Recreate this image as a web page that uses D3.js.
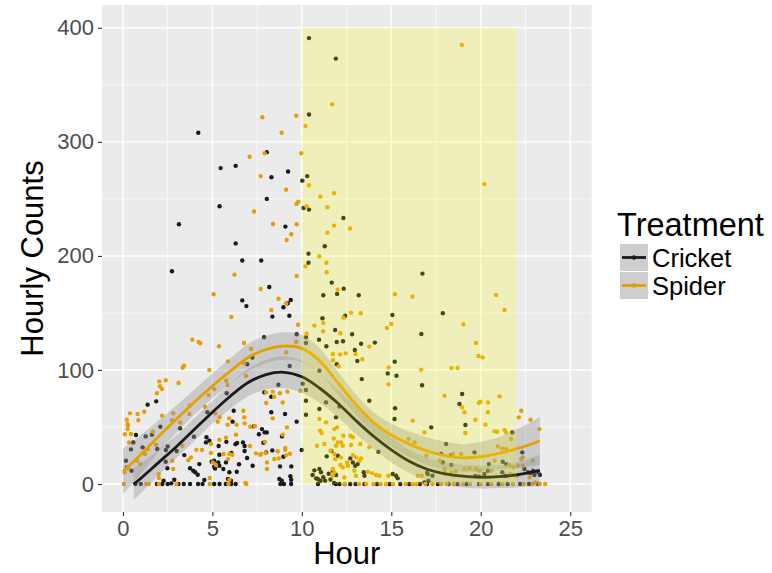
<!DOCTYPE html>
<html>
<head>
<meta charset="utf-8">
<script src="https://cdn.jsdelivr.net/npm/d3@7/dist/d3.min.js"></script>
<style>
  html, body { margin: 0; padding: 0; background: #ffffff; }
  svg { display: block; font-family: "Liberation Sans", Arial, Helvetica, sans-serif; }
</style>
</head>
<body>
<svg id="chart" width="772" height="573"></svg>
<script>
// ---- Data -------------------------------------------------------------
const xTicks = [0, 5, 10, 15, 20, 25];
const yTicks = [0, 100, 200, 300, 400];
const treatments = ["Cricket", "Spider"];
const seriesColors = ["#1a1a1a", "#E69F00"];

// shaded treatment window (hours, counts)
const windowHours = [10, 22];
const windowCounts = [0, 400];

// hourly observations: [hour, count]
const cricketPoints = [
  [4.21,308],[10.4,391],[10.4,324],[8.04,291],[6.3,279],[5.46,277],[8.3,269],[9.23,274],[10.03,266],[10.3,270],[11.9,373],[8.04,250],
  [5.4,243.6],[10.1,242],[10.4,240.6],[3.13,227.8],[9.08,225.7],[6.3,211],[6.67,196],[7.73,196],[10.37,202],[10.37,194],[2.74,186.6],
  [8.18,172.8],[6.67,161],[6.9,156],[9.38,161.4],[9.21,158.5],[8.97,155],[8.35,146.8],[9.3,147.6],[9.71,131.3],[7.89,128.7],[6.95,105],
  [7.23,111],[9.32,103.5],[10.05,88],[8.69,87],
  [12.32,233.3],[11.28,208.5],[11.67,176.6],[12.34,171.3],[11.2,165.5],[11.97,166.7],[13.18,165.5],[16.74,184.5],[17.88,149.7],
  [15.06,148.2],[12.42,147.6],[11.15,145.3],[16.68,131.6],[11.86,135],[12.81,131.3],[10.96,126.6],[11.95,124.6],[12.3,125.2],
  [11.37,120.8],[12.96,117.5],[13.31,123],[14.08,124],[13.1,107.9],[11.95,105],[15.19,107.3],[14.8,97],[15.29,95],[13.35,92],[16.72,86.6],
  [5.8,79.6],[1.38,69.6],[1.86,72.5],[2.09,50.3],[3.19,48.9],[4.72,62.9],[6.19,64.3],[7.9,80.4],[8.29,76.6],[8.29,62.9],[9.71,54.7],
  [7.77,48.2],[8.04,45.3],[4.67,41],[4.83,38],[4.64,36.5],[5.35,33.3],[5.78,37],[6.29,35],[6.38,36],[6.71,36.5],[6.8,33.3],[6.8,29],
  [7.6,43.6],[7.92,45.3],[7.85,36.2],[8.35,29.5],[8.97,24],[9.41,15.5],[9.99,29.8],[7.25,16],[0.45,30.4],[0.58,36.5],[1.1,32.2],
  [0.17,20.4],[0.22,14.3],[1.27,41.8],[1.62,43.3],[1.92,30.7],[2.4,29.8],[2.39,19.6],[2.48,13.8],[3.0,29],[2.27,2.9],[2.7,0.6],
  [2.87,3.8],[3.43,25.4],[3.75,13.8],[3.93,11.7],[4.04,10.3],[3.97,41.5],[4.27,17.5],[4.18,8.2],[4.55,3.5],[4.96,19.6],[5.1,15.2],
  [5.39,25.7],[5.33,19],[5.61,13.2],[5.87,4.4],[6.04,2.9],[6.49,17.3],[6.94,22.8],[6.36,10.8],[8.74,4.4],[8.88,2.9],[9.36,6.8],[9.4,3.8],
  [10.23,82.5],[10.23,73],[10.23,60.8],[9.06,61.4],[6.13,54.7],[7.31,50.6],[8.89,41.8],[6.06,27.2],[8.0,27.8],[5.1,20.4],[5.39,16],
  [5.15,13.7],[5.76,19],[5.95,10.3],[8.78,15.5],
  [10.23,128.7],[10.23,123.7],[10.98,99.4],[11.35,71.6],[13.77,73],[10.98,65.8],[12.1,68],[11.91,58.5],[15.18,57],[17.23,49.7],
  [14.28,28.3],[11.65,29],[11.39,24.3],[12.01,24.8],[12.71,22.5],[12.85,19],[12.98,16],[13.12,17.5],[11.73,11.7],[11.91,7.9],
  [10.98,13.2],[11.07,10.3],[10.89,4.4],[10.8,5],[11.04,2.9],[13.46,10.3],[13.5,7.3],[15.08,8.8],[15.27,7.3],[15.36,5],[17.04,8.8],
  [17.08,2.9],[16.85,1.5],[10.6,8],[10.7,12],[11.2,6],[11.3,3],[11.5,9],[11.6,4],[11.8,1],
  [18.96,79],[18.81,70.2],[19.14,51.8],[21.76,45.3],[18.06,35.1],[22.32,27.8],[19.65,27.8],[17.79,26.3],[18.35,25.4],[18.35,16.7],
  [17.88,19],[20.45,17.5],[21.23,19.6],[21.42,17.5],[20.2,8.8],[20.4,11.7],[21.2,10.3],[21.38,7.3],[22.44,13.2],[22.64,10.3],
  [22.92,11.7],[23.2,10.3],[23.3,7.9],[23.0,7.9],[19.7,7],[19.9,6.5],[17.0,10],[17.3,7.3],[15.21,66.4],[22.78,9.4],
  [0.73,43],[0.48,11.7],[2.5,33],
  [0.7,0],[1.0,0],[1.9,0],[2.2,0],[2.5,0],[3.1,0],[3.4,0],[3.75,0],[4.2,0],[4.45,0],[5.1,0],[5.4,0],[5.75,0],[6.05,0],[6.3,0],
  [8.8,0],[9.0,0],[9.4,0],[10.9,0],[11.9,0],[12.1,0],[12.4,0],[12.7,0],[13.0,0],[13.5,0],[14.2,0],[14.9,0],[15.5,0],[16.0,0],
  [16.6,0],[17.0,0],[17.6,0],[18.2,0],[18.7,0],[19.2,0],[19.9,0],[20.4,0],[21.0,0],[21.5,0],[22.2,0],[22.7,0],[23.2,0]
];

const spiderPoints = [
  [7.79,321.6],[9.69,323],[10.2,314],[8.87,308],[7.92,290],[7.08,287],[7.7,270],[9.97,290],[10.4,262],[9.12,258],[18.94,385],
  [11.7,333],[11.03,252],[11.8,255],[20.2,263],
  [9.8,247.6],[9.7,245.6],[10.27,243.6],[7.33,239],[8.39,228],[9.71,227.8],[9.41,219],[9.15,214],[10.2,191],[6.23,183.6],[9.71,182.5],
  [7.7,171],[5.07,166.4],[8.7,162.5],[9.12,158.5],[8.29,152.6],[6.06,146.5],[9.79,139.7],[10.27,131.8],[3.88,126.6],[4.23,124.5],
  [4.32,123.4],[5.37,120.8],[6.77,123.7],[3.34,102],[3.41,103.8],[4.83,100],[5.87,107.6],[6.77,106],[9.13,115.5],[2.03,90],[2.39,91],[3.11,88.6],
  [11.43,242.7],[11.8,226.6],[11.43,220.4],[12.69,224],[10.98,199.7],[11.37,194],[11.39,185.7],[12.0,170.5],[15.2,166.4],[16.18,164.3],
  [20.86,165.8],[21.33,152.6],[12.75,150.3],[13.29,149.7],[12.32,145.9],[11.2,141.2],[10.7,138.9],[15.0,140.4],[14.75,136.8],[19.03,140],
  [11.19,134],[12.15,132.2],[13.77,120.5],[19.74,123.7],[19.87,112.3],[20.1,111.1],[11.73,114],[12.14,113.7],[12.45,114.6],[13.0,114],
  [13.38,109.4],[11.74,108.5],[12.06,103.2],[14.86,102.3],[16.67,100.3],[18.36,101.8],[18.7,101.8],[14.84,87.4],
  [2.07,85.7],[2.18,83.3],[1.9,79.6],[5.1,83.3],[5.78,90.6],[5.85,86.8],[8.0,80.4],[8.37,81],[8.45,76.6],[8.78,79.6],[9.19,81],[9.92,81.8],
  [1.19,63.4],[0.82,61.4],[0.39,62],[0.22,56.4],[0.28,51.2],[0.86,56],[0.11,43.6],[0.45,43.9],[2.18,60],[2.81,62],[2.74,56],[3.2,54],
  [3.73,69],[3.71,61.4],[4.59,67.8],[4.79,78],[5.16,62],[5.3,54.7],[5.41,58.5],[5.94,57.6],[6.73,64.3],[6.78,58.5],[6.8,53.2],[6.36,52],
  [7.12,50.3],[8.01,71],[8.93,71.6],[8.37,57.6],[7.38,50.9],[8.93,43.3],[5.39,38.9],[5.76,40.6],[7.1,33.3],[7.94,37],[7.72,26.3],
  [7.98,27.2],[8.65,28.7],[8.71,22.5],[9.08,31.6],[9.34,26.6],[8.05,13.2],[8.46,22],[0.1,10.3],[0.3,13.8],[0.78,20.4],[0.97,17.5],
  [1.23,26.3],[1.38,30.7],[1.85,34.5],[1.68,45.9],[2.76,20.4],[2.81,13.2],[2.0,8.8],[2.01,5.3],[3.32,33.6],[3.8,23.4],[3.65,21],[4.1,30],
  [4.42,29.8],[4.85,5.3],[4.92,27.2],[5.87,21.9],[6.11,25.7],[5.95,3.8],
  [7.16,118.4],[6.88,95],[9.68,124.8],[5.85,52],[9.17,49.7],[6.32,43.3],[4.92,35.1],[5.63,26.3],[5.95,26.3],[7.44,26.9],[7.68,25.7],
  [9.07,30],[9.12,25.4],[5.02,19],[5.2,16.7],[8.05,19],[6.84,0.9],
  [10.98,57],[11.35,54.1],[16.2,55.6],[11.02,46.8],[11.11,44.7],[11.82,48.2],[11.97,49.7],[12.32,42.4],[12.19,36.5],[12.71,42.4],
  [12.85,41],[11.78,40],[12.01,36.5],[11.91,33.6],[12.29,33.6],[10.85,33.6],[11.26,35.1],[12.75,34.2],[13.27,35.1],[13.77,32.2],
  [11.6,29.2],[11.82,26.3],[12.19,23.4],[11.87,22],[12.85,25.4],[13.03,23.4],[13.22,20.4],[13.31,22.5],[12.53,19],[12.57,16],
  [12.15,16.7],[12.29,14.6],[11.73,13.2],[11.82,10.3],[11.73,7.3],[12.38,5.8],[12.94,11.7],[13.03,7.3],[13.69,10.8],[13.93,9.6],
  [14.15,7.9],[14.34,7.3],[14.84,7.3],[16.48,7.3],[16.7,7.3],[16.85,45.3],[15.96,39.5],[16.3,36.5],[17.97,13.2],
  [17.97,77.5],[18.96,67.3],[19.09,62.9],[19.89,71],[19.98,72.2],[20.4,71.6],[20.4,62.9],[21.05,76.9],[19.7,56.4],[20.26,52],[19.14,44.7],
  [22.26,64.3],[22.13,58.5],[22.78,56.4],[23.28,48.2],[20.77,46.2],[20.92,45.9],[21.33,47.4],[21.42,45.3],[21.7,39.5],[20.95,33],
  [21.2,31.3],[21.42,30.7],[22.35,23.4],[22.91,20.4],[18.44,26.3],[18.9,26.3],[16.95,24.8],[17.7,20.4],[20.77,20.4],[21.6,16.7],
  [21.83,14.6],[22.07,16],[19.09,13.2],[19.37,13.8],[19.74,13.2],[19.93,11.7],[20.6,11.7],[21.64,8.8],[21.83,7.9],[22.02,7.3],
  [22.73,5.8],[23.04,1.5],[18.0,10],[18.35,10],[18.6,11],[22.26,22],[22.35,16],
  [0.26,52.6],[0.26,48.2],[0.35,36.5],
  [0.05,0],[1.3,0],[1.45,0],[2.0,0],[3.0,0],[4.85,0],[5.9,0],[6.9,0],[12.4,0],[13.2,0],[13.6,0],[14.0,0],[14.4,0],[14.7,0],[15.1,0],
  [15.8,0],[16.2,0],[16.4,0],[16.9,0],[17.3,0],[17.8,0],[18.1,0],[18.5,0],[19.0,0],[19.4,0],[20.0,0],[20.6,0],[21.2,0],[21.8,0],
  [22.4,0],[22.9,0],[23.3,0],[23.6,0]
];

// loess fits with their confidence half-widths
const cricketFitHour = [0.6, 1, 2, 3, 4, 5, 6, 7, 8, 9, 10, 11, 12, 13, 14, 15, 16, 17, 18, 19, 20, 21, 22, 23, 23.3];
const cricketFit     = [0, 5, 19, 33, 48, 63, 77, 89, 96, 98, 94, 84, 71, 56, 42, 30, 20, 13, 9, 7, 6, 6.5, 8, 11, 12];
const cricketSe      = [14, 13, 11, 10, 10, 10, 11, 12, 13, 14, 14, 13, 12, 12, 11, 11, 10, 10, 10, 10, 10, 10, 11, 13, 14];

const spiderFitHour  = [0, 1, 2, 3, 4, 5, 6, 7, 8, 9, 10, 11, 12, 13, 14, 15, 16, 17, 18, 19, 20, 21, 22, 23, 23.3];
const spiderFit      = [11, 26, 42, 57, 72, 86, 99, 111, 118, 121, 119, 108, 89, 70, 54, 43, 35, 29, 25, 23, 24, 27, 31, 36, 38];
const spiderSe       = [20, 17, 14, 12, 11, 11, 11, 12, 12, 12, 12, 11, 10, 9, 9, 10, 11, 12, 12, 12, 13, 14, 17, 20, 21];

// ---- Layout -----------------------------------------------------------
const svg = d3.select("#chart");
const panel = { left: 102, right: 591.7, top: 5, bottom: 512 };

const x = d3.scaleLinear().domain([-1.17, 26.2]).range([panel.left, panel.right]);
const y = d3.scaleLinear().domain([-24.5, 420]).range([panel.bottom, panel.top]);

svg.append("defs").append("clipPath").attr("id", "panel-clip")
  .append("rect")
  .attr("x", panel.left).attr("y", panel.top)
  .attr("width", panel.right - panel.left).attr("height", panel.bottom - panel.top);

// panel background
svg.append("rect")
  .attr("x", panel.left).attr("y", panel.top)
  .attr("width", panel.right - panel.left).attr("height", panel.bottom - panel.top)
  .attr("fill", "#EBEBEB");

// grid
const grid = svg.append("g");
const xMinor = xTicks.map(v => v + 2.5).concat([-2.5]).filter(v => v > x.domain()[0] && v < x.domain()[1]);
const yMinor = yTicks.map(v => v + 50).concat([-50]).filter(v => v > y.domain()[0] && v < y.domain()[1]);
grid.selectAll(".xminor").data(xMinor).join("line")
  .attr("x1", d => x(d)).attr("x2", d => x(d))
  .attr("y1", panel.top).attr("y2", panel.bottom)
  .attr("stroke", "#ffffff").attr("stroke-width", 0.7);
grid.selectAll(".yminor").data(yMinor).join("line")
  .attr("y1", d => y(d)).attr("y2", d => y(d))
  .attr("x1", panel.left).attr("x2", panel.right)
  .attr("stroke", "#ffffff").attr("stroke-width", 0.7);
grid.selectAll(".xmajor").data(xTicks).join("line")
  .attr("x1", d => x(d)).attr("x2", d => x(d))
  .attr("y1", panel.top).attr("y2", panel.bottom)
  .attr("stroke", "#ffffff").attr("stroke-width", 1.4);
grid.selectAll(".ymajor").data(yTicks).join("line")
  .attr("y1", d => y(d)).attr("y2", d => y(d))
  .attr("x1", panel.left).attr("x2", panel.right)
  .attr("stroke", "#ffffff").attr("stroke-width", 1.4);

const plot = svg.append("g").attr("clip-path", "url(#panel-clip)");

// points
const pointSets = [cricketPoints, spiderPoints];
pointSets.forEach((pts, i) => {
  plot.append("g").selectAll("circle").data(pts).join("circle")
    .attr("cx", d => x(d[0])).attr("cy", d => y(d[1]))
    .attr("r", 2.2)
    .attr("fill", seriesColors[i]);
});

// smoothers: ribbon then line
const fits = [
  { hours: cricketFitHour, fit: cricketFit, se: cricketSe },
  { hours: spiderFitHour, fit: spiderFit, se: spiderSe }
];
const curve = d3.curveCatmullRom.alpha(0.5);
fits.forEach((f, i) => {
  const rows = f.hours.map((h, k) => ({ h, fit: f.fit[k], lo: f.fit[k] - f.se[k], hi: f.fit[k] + f.se[k] }));
  plot.append("path").datum(rows)
    .attr("d", d3.area().x(d => x(d.h)).y0(d => y(d.lo)).y1(d => y(d.hi)).curve(curve))
    .attr("fill", "#999999").attr("fill-opacity", 0.4);
  plot.append("path").datum(rows)
    .attr("d", d3.line().x(d => x(d.h)).y(d => y(d.fit)).curve(curve))
    .attr("fill", "none").attr("stroke", seriesColors[i]).attr("stroke-width", 2.8);
});

// treatment window overlay
plot.append("rect")
  .attr("x", x(windowHours[0])).attr("width", x(windowHours[1]) - x(windowHours[0]))
  .attr("y", y(windowCounts[1])).attr("height", y(windowCounts[0]) - y(windowCounts[1]))
  .attr("fill", "#FFFF00").attr("fill-opacity", 0.2);

// axes
const xAxis = svg.append("g").attr("transform", `translate(0,${panel.bottom})`)
  .call(d3.axisBottom(x).tickValues(xTicks).tickSize(4).tickPadding(4));
const yAxis = svg.append("g").attr("transform", `translate(${panel.left},0)`)
  .call(d3.axisLeft(y).tickValues(yTicks).tickSize(4).tickPadding(4));
[xAxis, yAxis].forEach(g => {
  g.select(".domain").remove();
  g.selectAll(".tick line").attr("stroke", "#333333").attr("stroke-width", 1.1);
  g.selectAll(".tick text").attr("fill", "#4D4D4D")
    .style("font-size", "22px")
    .style("font-family", "'Liberation Sans', Arial, sans-serif");
});

// axis titles
svg.append("text")
  .attr("x", (panel.left + panel.right) / 2).attr("y", 564)
  .attr("text-anchor", "middle").attr("font-size", 31).attr("fill", "#000")
  .text("Hour");
svg.append("text")
  .attr("transform", `translate(43,${(panel.top + panel.bottom) / 2}) rotate(-90)`)
  .attr("text-anchor", "middle").attr("font-size", 31).attr("fill", "#000")
  .text("Hourly Counts");

// legend
const legend = svg.append("g").attr("transform", "translate(617,0)");
legend.append("text").attr("x", 0).attr("y", 236)
  .attr("font-size", 32.5).attr("fill", "#000").text("Treatment");
treatments.forEach((name, i) => {
  const top = 244 + i * 28;
  const key = legend.append("g").attr("transform", `translate(3,${top})`);
  key.append("rect").attr("width", 28).attr("height", 27).attr("fill", "#F2F2F2");
  key.append("rect").attr("width", 28).attr("height", 27).attr("fill", "#999999").attr("fill-opacity", 0.4);
  key.append("line").attr("x1", 2).attr("x2", 26).attr("y1", 13.5).attr("y2", 13.5)
    .attr("stroke", seriesColors[i]).attr("stroke-width", 2.8);
  key.append("circle").attr("cx", 14).attr("cy", 13.5).attr("r", 2.2).attr("fill", seriesColors[i]);
  legend.append("text").attr("x", 35).attr("y", top + 22.5)
    .attr("font-size", 25.5).attr("fill", "#000").text(name);
});
</script>
</body>
</html>
